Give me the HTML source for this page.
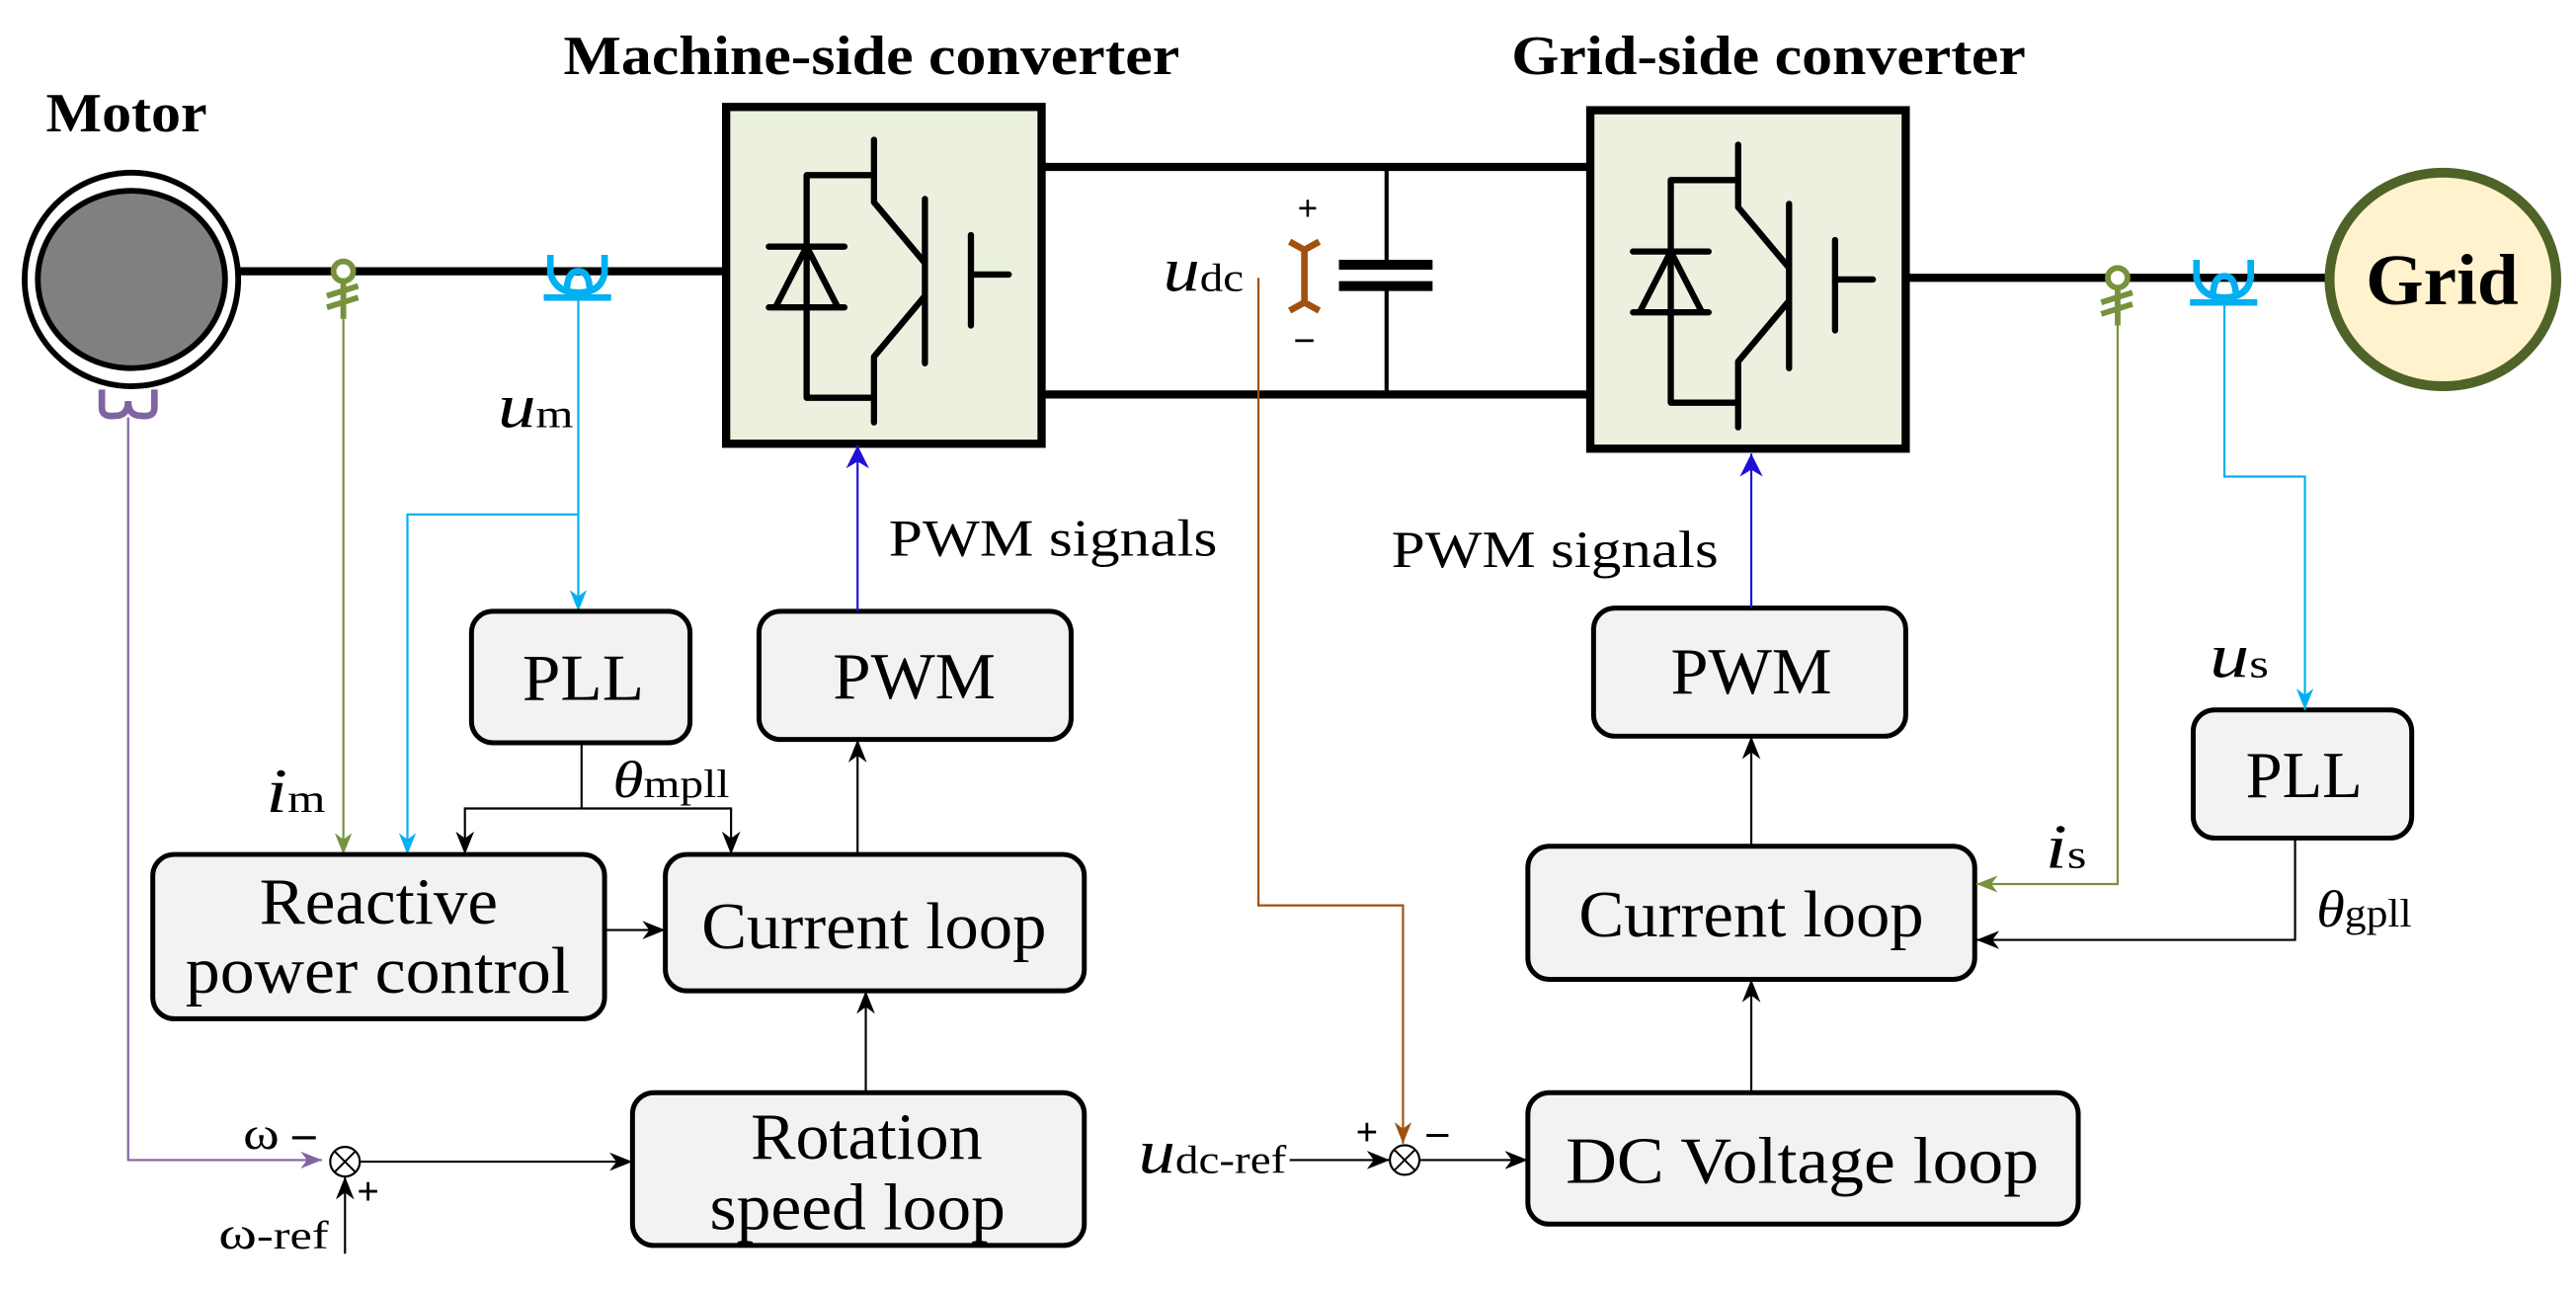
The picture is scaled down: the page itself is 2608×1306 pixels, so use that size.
<!DOCTYPE html>
<html><head><meta charset="utf-8"><style>html,body{margin:0;padding:0;background:#fff}svg{display:block}</style></head>
<body>
<svg width="2608" height="1306" viewBox="0 0 1568 785" xmlns="http://www.w3.org/2000/svg" font-family="'Liberation Serif', serif">
<defs>
<marker id="ak" viewBox="0 0 10 10" refX="10" refY="5" markerWidth="7" markerHeight="7" orient="auto" markerUnits="userSpaceOnUse"><path d="M0,0 L10,5 L0,10 L2,5z" fill="#000"/></marker>
<marker id="ab" viewBox="0 0 10 10" refX="10" refY="5" markerWidth="14" markerHeight="14" orient="auto" markerUnits="userSpaceOnUse"><path d="M0,0 L10,5 L0,10 L3,5z" fill="#1f10d8"/></marker>
<marker id="abig" viewBox="0 0 10 10" refX="10" refY="5" markerWidth="14" markerHeight="14" orient="auto" markerUnits="userSpaceOnUse"><path d="M0,1 L10,5 L0,9 L3,5z" fill="#000"/></marker>
<marker id="ag" viewBox="0 0 10 10" refX="10" refY="5" markerWidth="13" markerHeight="13" orient="auto" markerUnits="userSpaceOnUse"><path d="M0,1 L10,5 L0,9 L3,5z" fill="#76923c"/></marker>
<marker id="ac" viewBox="0 0 10 10" refX="10" refY="5" markerWidth="13" markerHeight="13" orient="auto" markerUnits="userSpaceOnUse"><path d="M0,1 L10,5 L0,9 L3,5z" fill="#00b0f0"/></marker>
<marker id="ap" viewBox="0 0 10 10" refX="10" refY="5" markerWidth="13" markerHeight="13" orient="auto" markerUnits="userSpaceOnUse"><path d="M0,1 L10,5 L0,9 L3,5z" fill="#8064a2"/></marker>
<marker id="ao" viewBox="0 0 10 10" refX="10" refY="5" markerWidth="13" markerHeight="13" orient="auto" markerUnits="userSpaceOnUse"><path d="M0,1 L10,5 L0,9 L3,5z" fill="#a0500f"/></marker>
<g id="igbt" fill="none" stroke="#000" stroke-width="3.8" stroke-linecap="round" stroke-linejoin="round">
<path d="M532,85 V123 L563,160 M532,257 V217 L563,180 M563,121 V221 M591,143 V198 M591,167 H614 M532,106.5 H491 V242 H532"/>
<path d="M468,150 H514 M491,150 L472,187 H510 Z M468,187 H514"/>
</g>
</defs>

<!-- titles -->
<text x="343" y="45" font-size="34" font-weight="bold" textLength="375" lengthAdjust="spacingAndGlyphs">Machine-side converter</text>
<text x="920" y="45" font-size="34" font-weight="bold" textLength="313" lengthAdjust="spacingAndGlyphs">Grid-side converter</text>
<text x="28" y="80" font-size="34" font-weight="bold" textLength="98" lengthAdjust="spacingAndGlyphs">Motor</text>

<!-- main power lines -->
<g stroke="#000" stroke-width="5">
<line x1="146" y1="165" x2="442" y2="165"/>
<line x1="634" y1="101.5" x2="970" y2="101.5"/>
<line x1="634" y1="240" x2="970" y2="240"/>
<line x1="1160" y1="169" x2="1420" y2="169"/>
</g>

<!-- motor -->
<circle cx="80" cy="170" r="65" fill="#fff" stroke="#000" stroke-width="3.5"/>
<ellipse cx="80" cy="170" rx="57" ry="54" fill="#808080" stroke="#000" stroke-width="3.5"/>
<path d="M62,237 V248 Q62,254 70,253 Q78,253 78,244 Q78,253 86,253 Q94,254 94,248 V237" fill="none" stroke="#8064a2" stroke-width="4"/>

<!-- converters -->
<rect x="442" y="65" width="192" height="205" fill="#ebf1de" stroke="#000" stroke-width="5"/>
<use href="#igbt"/>
<rect x="968" y="67" width="192" height="206" fill="#ebf1de" stroke="#000" stroke-width="5"/>
<use href="#igbt" transform="translate(526,3)"/>

<!-- capacitor -->
<g stroke="#000">
<line x1="844" y1="101" x2="844" y2="161" stroke-width="2.5"/>
<line x1="844" y1="174" x2="844" y2="240" stroke-width="2.5"/>
<line x1="815" y1="161" x2="872" y2="161" stroke-width="6"/>
<line x1="815" y1="174" x2="872" y2="174" stroke-width="6"/>
</g>
<!-- dc voltage sensor -->
<path d="M785,147 L794,152 L803,147 M794,152 V184 M785,189 L794,184 L803,189" fill="none" stroke="#a0500f" stroke-width="4"/>
<text x="796" y="134" font-size="22" font-weight="bold" text-anchor="middle">+</text>
<text x="794" y="215" font-size="24" font-weight="bold" text-anchor="middle">−</text>
<text x="708" y="177" font-size="38" font-style="italic" textLength="49" lengthAdjust="spacingAndGlyphs">u<tspan font-size="24" font-style="normal">dc</tspan></text>

<!-- grid -->
<ellipse cx="1487" cy="170" rx="69" ry="65" fill="#fff2cc" stroke="#4f6228" stroke-width="6"/>
<text x="1440" y="185" font-size="44" font-weight="bold" textLength="93" lengthAdjust="spacingAndGlyphs">Grid</text>

<!-- sensors -->
<g fill="none" stroke="#76923c" stroke-width="3.5">
<circle cx="209" cy="165" r="6" fill="#fff"/>
<path d="M209,171 V194 M199,180 L218,174 M199,187 L218,181"/>
<circle cx="1289" cy="169" r="6" fill="#fff"/>
<path d="M1289,175 V198 M1279,184 L1298,178 M1279,191 L1298,185"/>
</g>
<g fill="none" stroke="#00b0f0" stroke-width="4">
<path d="M335,155 V166 Q338,178 352,178 Q366,178 368,166 V155 M345,178 Q345,165 352,165 Q359,165 359,178"/>
<line x1="331" y1="181" x2="372" y2="181"/>
<path d="M1337,158 V169 Q1340,181 1354,181 Q1368,181 1370,169 V158 M1347,181 Q1347,168 1354,168 Q1361,168 1361,181"/>
<line x1="1333" y1="184" x2="1374" y2="184"/>
</g>

<!-- machine-side signals -->
<polyline points="209,194 209,520" fill="none" stroke="#76923c" stroke-width="1.3" marker-end="url(#ag)"/>
<polyline points="352,182 352,372" fill="none" stroke="#00b0f0" stroke-width="1.3" marker-end="url(#ac)"/>
<polyline points="352,313 248,313 248,520" fill="none" stroke="#00b0f0" stroke-width="1.3" marker-end="url(#ac)"/>
<polyline points="78,254 78,706 196,706" fill="none" stroke="#8064a2" stroke-width="1.3" marker-end="url(#ap)"/>
<text x="303" y="260" font-size="38" font-style="italic" textLength="46" lengthAdjust="spacingAndGlyphs">u<tspan font-size="24" font-style="normal">m</tspan></text>
<text x="162" y="494" font-size="38" font-style="italic" textLength="36" lengthAdjust="spacingAndGlyphs">i<tspan font-size="24" font-style="normal">m</tspan></text>

<!-- boxes -->
<g fill="#f2f2f2" stroke="#000" stroke-width="3">
<rect x="287" y="372" width="133" height="80" rx="13"/>
<rect x="462" y="372" width="190" height="78" rx="13"/>
<rect x="93" y="520" width="275" height="100" rx="13"/>
<rect x="405" y="520" width="255" height="83" rx="13"/>
<rect x="385" y="665" width="275" height="93" rx="13"/>
<rect x="970" y="370" width="190" height="78" rx="13"/>
<rect x="1335" y="432" width="133" height="78" rx="13"/>
<rect x="930" y="515" width="272" height="81" rx="13"/>
<rect x="930" y="665" width="335" height="80" rx="13"/>
</g>
<g font-size="40" lengthAdjust="spacingAndGlyphs">
<text x="318" y="426" textLength="74" lengthAdjust="spacingAndGlyphs">PLL</text>
<text x="507" y="425" textLength="99" lengthAdjust="spacingAndGlyphs">PWM</text>
<text x="158" y="562" textLength="145" lengthAdjust="spacingAndGlyphs">Reactive</text>
<text x="113" y="604" textLength="234" lengthAdjust="spacingAndGlyphs">power control</text>
<text x="427" y="577" textLength="210" lengthAdjust="spacingAndGlyphs">Current loop</text>
<text x="457" y="705" textLength="141" lengthAdjust="spacingAndGlyphs">Rotation</text>
<text x="432" y="748" textLength="180" lengthAdjust="spacingAndGlyphs">speed loop</text>
<text x="1017" y="422" textLength="98" lengthAdjust="spacingAndGlyphs">PWM</text>
<text x="1367" y="485" textLength="71" lengthAdjust="spacingAndGlyphs">PLL</text>
<text x="961" y="570" textLength="210" lengthAdjust="spacingAndGlyphs">Current loop</text>
<text x="953" y="720" textLength="288" lengthAdjust="spacingAndGlyphs">DC Voltage loop</text>
</g>

<!-- machine-side control connectors -->
<polyline points="354,452 354,492" fill="none" stroke="#000" stroke-width="1.3"/>
<polyline points="354,492 283,492 283,520" fill="none" stroke="#000" stroke-width="1.3" marker-end="url(#abig)"/>
<polyline points="354,492 445,492 445,520" fill="none" stroke="#000" stroke-width="1.3" marker-end="url(#abig)"/>
<text x="373" y="485" font-size="32" font-style="italic" textLength="71" lengthAdjust="spacingAndGlyphs">θ<tspan font-size="24" font-style="normal">mpll</tspan></text>
<line x1="368" y1="566" x2="405" y2="566" stroke="#000" stroke-width="1.3" marker-end="url(#abig)"/>
<line x1="522" y1="520" x2="522" y2="450" stroke="#000" stroke-width="1.3" marker-end="url(#abig)"/>
<line x1="527" y1="665" x2="527" y2="603" stroke="#000" stroke-width="1.3" marker-end="url(#abig)"/>
<line x1="522" y1="372" x2="522" y2="271" stroke="#1f10d8" stroke-width="1.3" marker-end="url(#ab)"/>
<text x="541" y="338" font-size="32" textLength="200" lengthAdjust="spacingAndGlyphs">PWM signals</text>

<!-- machine sum -->
<circle cx="210" cy="707" r="9" fill="#fff" stroke="#000" stroke-width="1.3"/>
<path d="M203.6,700.6 L216.4,713.4 M216.4,700.6 L203.6,713.4" stroke="#000" stroke-width="1.2"/>
<line x1="219" y1="707" x2="385" y2="707" stroke="#000" stroke-width="1.3" marker-end="url(#abig)"/>
<line x1="210" y1="763" x2="210" y2="716" stroke="#000" stroke-width="1.3" marker-end="url(#abig)"/>
<text x="148" y="699" font-size="28" textLength="22" lengthAdjust="spacingAndGlyphs">ω</text>
<text x="185" y="699" font-size="28" font-weight="bold" text-anchor="middle">–</text>
<text x="224" y="733" font-size="24" font-weight="bold" text-anchor="middle">+</text>
<text x="133" y="760" font-size="28" textLength="67" lengthAdjust="spacingAndGlyphs">ω<tspan font-size="24">-ref</tspan></text>

<!-- grid side signals -->
<polyline points="766,169 766,551 854,551 854,696" fill="none" stroke="#a0500f" stroke-width="1.3" marker-end="url(#ao)"/>
<polyline points="1289,198 1289,538 1203,538" fill="none" stroke="#76923c" stroke-width="1.3" marker-end="url(#ag)"/>
<polyline points="1354,185 1354,290 1403,290 1403,432" fill="none" stroke="#00b0f0" stroke-width="1.3" marker-end="url(#ac)"/>
<polyline points="1397,510 1397,572 1203,572" fill="none" stroke="#000" stroke-width="1.3" marker-end="url(#abig)"/>
<text x="1345" y="412" font-size="38" font-style="italic" textLength="36" lengthAdjust="spacingAndGlyphs">u<tspan font-size="24" font-style="normal">s</tspan></text>
<text x="1245" y="528" font-size="38" font-style="italic" textLength="25" lengthAdjust="spacingAndGlyphs">i<tspan font-size="24" font-style="normal">s</tspan></text>
<text x="1410" y="564" font-size="32" font-style="italic" textLength="58" lengthAdjust="spacingAndGlyphs">θ<tspan font-size="24" font-style="normal">gpll</tspan></text>
<line x1="1066" y1="515" x2="1066" y2="448" stroke="#000" stroke-width="1.3" marker-end="url(#abig)"/>
<line x1="1066" y1="665" x2="1066" y2="596" stroke="#000" stroke-width="1.3" marker-end="url(#abig)"/>
<line x1="1066" y1="370" x2="1066" y2="276" stroke="#1f10d8" stroke-width="1.3" marker-end="url(#ab)"/>
<text x="847" y="345" font-size="32" textLength="199" lengthAdjust="spacingAndGlyphs">PWM signals</text>

<!-- grid sum -->
<circle cx="855" cy="706" r="9" fill="#fff" stroke="#000" stroke-width="1.3"/>
<path d="M848.6,699.6 L861.4,712.4 M861.4,699.6 L848.6,712.4" stroke="#000" stroke-width="1.2"/>
<line x1="785" y1="706" x2="846" y2="706" stroke="#000" stroke-width="1.3" marker-end="url(#abig)"/>
<line x1="864" y1="706" x2="930" y2="706" stroke="#000" stroke-width="1.3" marker-end="url(#abig)"/>
<text x="693" y="714" font-size="38" font-style="italic" textLength="90" lengthAdjust="spacingAndGlyphs">u<tspan font-size="24" font-style="normal">dc-ref</tspan></text>
<text x="832" y="697" font-size="24" font-weight="bold" text-anchor="middle">+</text>
<text x="875" y="697" font-size="26" font-weight="bold" text-anchor="middle">–</text>
</svg>
</body></html>
